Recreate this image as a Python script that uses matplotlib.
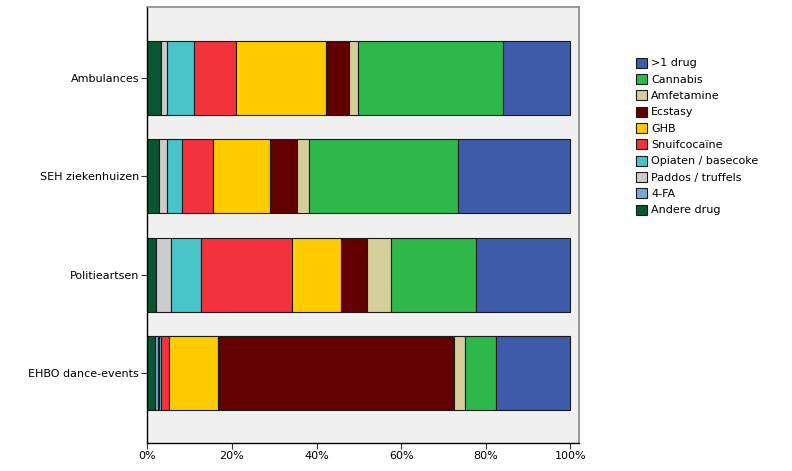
import matplotlib.pyplot as plt
import numpy as np

# categories, bottom to top
groups = ['EHBO dance-events', 'Politieartsen', 'SEH ziekenhuizen', 'Ambulances']

drugs = ['Andere drug', '4-FA', 'Paddos / truffels', 'Opiaten / basecoke',
         'Snuifcocaïne', 'GHB', 'Ecstasy', 'Amfetamine', 'Cannabis', '>1 drug']
colors = ['#0B5630', '#7BA7D8', '#CCCCCC', '#48C3C8', '#F2333B',
          '#FFCC00', '#620000', '#D4CF98', '#2EB84B', '#3E5BA9']

# percentages per drug, order of groups
andere = [1.9, 2.1, 2.8, 3.2]
fa4 = [0.6, 0.0, 0.0, 0.0]
paddos = [0.3, 3.4, 1.9, 1.5]
opiaten = [0.4, 7.2, 3.5, 6.4]
snuif = [1.9, 21.4, 7.3, 9.8]
ghb = [11.6, 11.6, 13.4, 21.3]
ecstasy = [55.7, 6.1, 6.5, 5.4]
amfet = [2.7, 5.9, 2.8, 2.2]
cannabis = [7.3, 19.9, 35.2, 34.3]
meer = [17.6, 22.4, 26.5, 15.9]

series = [andere, fa4, paddos, opiaten, snuif, ghb, ecstasy, amfet, cannabis, meer]

fig = plt.figure(figsize=(7.92, 4.71), dpi=100)
ax = fig.add_axes([0.186, 0.0594, 0.545, 0.9256])
ax.set_facecolor('#F0F0F0')

y = np.arange(len(groups))
left = np.zeros(len(groups))
handles = []
for name, vals, c in zip(drugs, series, colors):
    vals = np.array(vals, dtype=float)
    h = ax.barh(y, vals, left=left, height=0.75, color=c, edgecolor='#1a1a1a',
                linewidth=0.8, label=name)
    handles.append(h)
    left += vals

ax.set_ylim(-0.71, 3.72)
ax.set_xlim(0, 102)
ax.set_yticks(y)
ax.set_yticklabels(groups, fontsize=8)
ax.set_xticks([0, 20, 40, 60, 80, 100])
ax.set_xticklabels(['0%', '20%', '40%', '60%', '80%', '100%'], fontsize=8)
ax.tick_params(axis='both', length=4, width=0.8, color='#333333', pad=2)

for s in ['top', 'right']:
    ax.spines[s].set_color('#888888')
    ax.spines[s].set_linewidth(1.2)
for s in ['left', 'bottom']:
    ax.spines[s].set_color('black')
    ax.spines[s].set_linewidth(1.0)

leg = fig.legend(handles[::-1], drugs[::-1], loc='upper left',
                 bbox_to_anchor=(0.797, 0.887), frameon=False, fontsize=8,
                 handlelength=1.0, handleheight=1.0, handletextpad=0.4,
                 labelspacing=0.5, borderaxespad=0)

fig.savefig('out.png', dpi=100)
